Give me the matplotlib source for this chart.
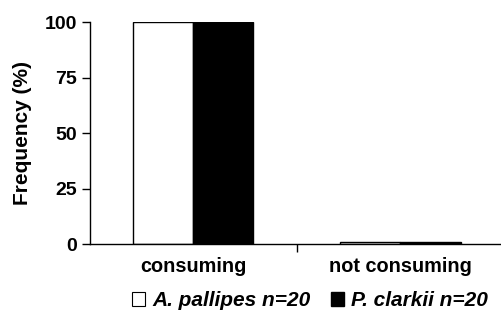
import matplotlib.pyplot as plt
from matplotlib.patches import Patch
import numpy as np

plt.rcParams['font.family'] = ['Liberation Sans', 'DejaVu Sans']
plt.rcParams['font.weight'] = 'bold'

categories = ['consuming', 'not consuming']
series_names = [r'A. pallipes n=20', r'P. clarkii n=20']
pallipes = [100, 1]
clarkii = [100, 1]
yticks = [0, 25, 50, 75, 100]

fig = plt.figure(figsize=(5.02, 3.15), dpi=100)
ax = fig.add_axes([0.179, 0.225, 0.825, 0.705])

x = np.arange(len(categories))
w = 0.29
ax.bar(x - w / 2, pallipes, w, color='white', edgecolor='black', linewidth=1)
ax.bar(x + w / 2, clarkii, w, color='black', edgecolor='black', linewidth=1)

ax.set_xlim(-0.5, 1.5)
ax.set_ylim(0, 100)
ax.set_yticks(yticks)
ax.set_yticklabels([str(v) for v in yticks], fontsize=14, fontweight='bold')
ax.set_xticks([0.5])
ax.set_xticklabels([''])
ax.tick_params(axis='y', length=6, width=1, direction='out', pad=3)
ax.tick_params(axis='x', length=6, width=1, direction='out')
for i, c in enumerate(categories):
    ax.text(x[i], -6, c, ha='center', va='top', fontsize=14.3, fontweight='bold',
            transform=ax.transData)
for s in ['top', 'right']:
    ax.spines[s].set_visible(False)
ax.spines['left'].set_linewidth(1)
ax.spines['bottom'].set_linewidth(1)
ax.set_ylabel('Frequency (%)', fontsize=15, fontweight='bold', labelpad=9)

handles = [Patch(facecolor='white', edgecolor='black', linewidth=0.8),
           Patch(facecolor='black', edgecolor='black')]
fig.legend(handles, series_names, loc='center', bbox_to_anchor=(0.618, 0.045), ncol=2,
           frameon=False, handlelength=0.6, handleheight=0.6, handletextpad=0.35,
           columnspacing=1.0, prop={'style': 'italic', 'weight': 'bold', 'size': 15})

fig.savefig('out.png', dpi=100)
